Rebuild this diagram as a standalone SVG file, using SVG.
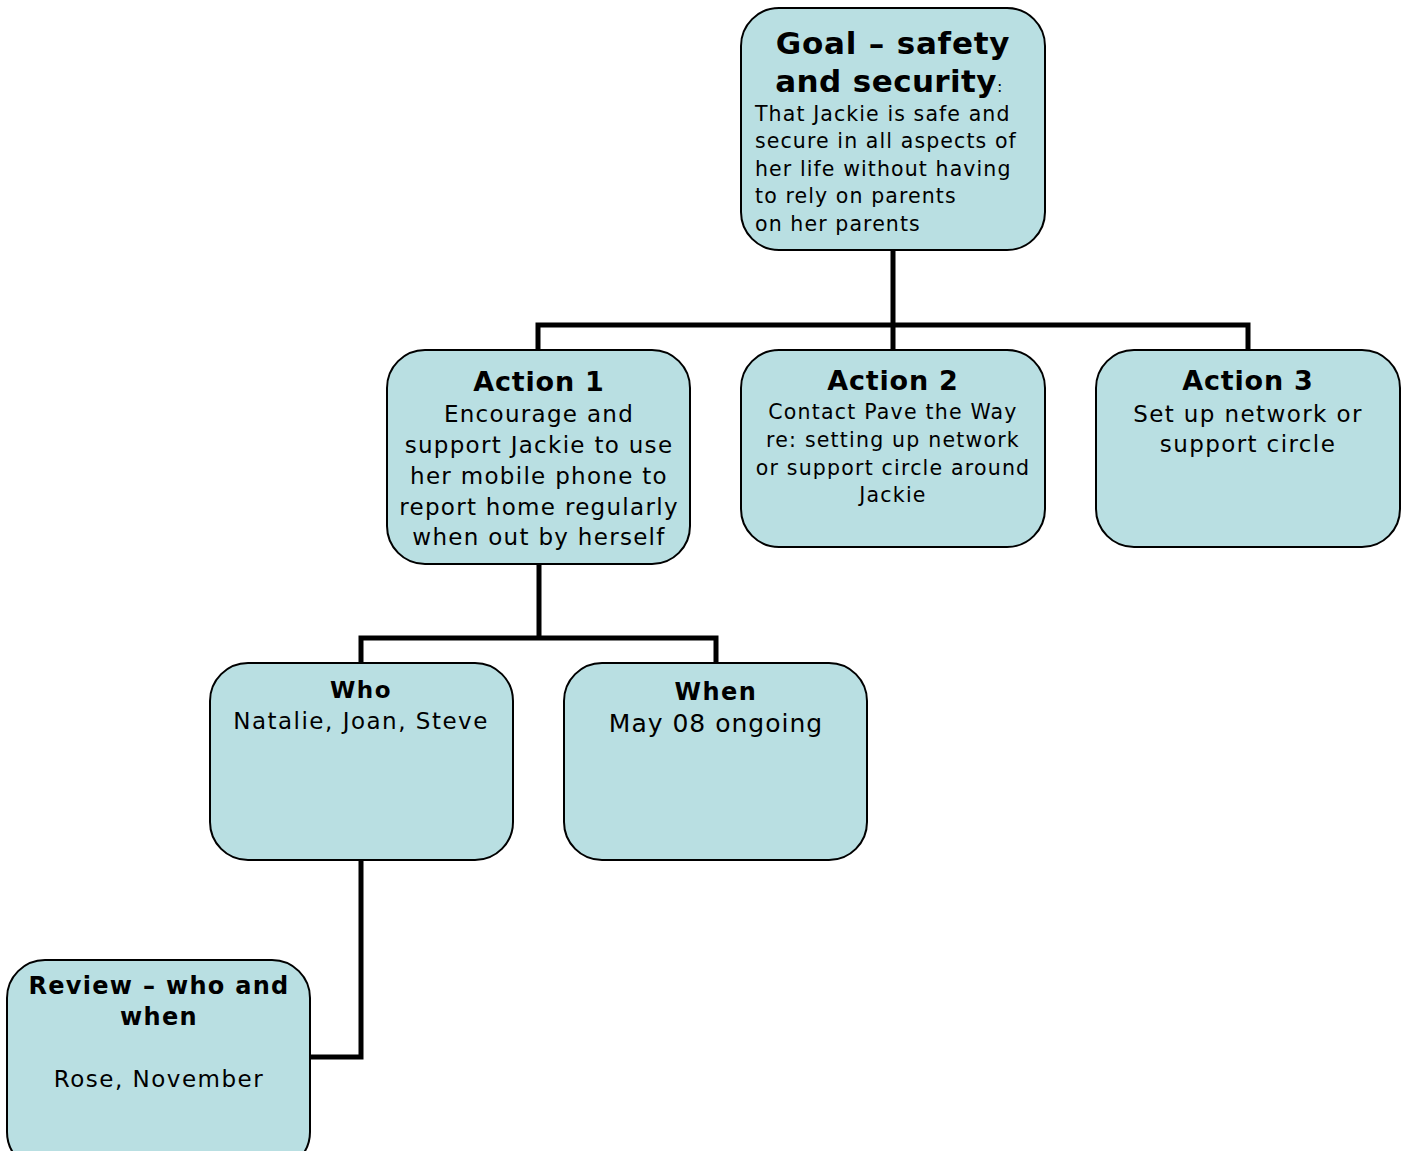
<svg xmlns="http://www.w3.org/2000/svg" width="1407" height="1151" viewBox="0 0 1407 1151">
<style>
.box{fill:#b9dfe2;stroke:#000;stroke-width:2}
.conn{fill:none;stroke:#000;stroke-width:5;stroke-linejoin:miter}
text{font-family:"DejaVu Sans","Liberation Sans",sans-serif;fill:#000}
.b{font-weight:bold}
.c{text-anchor:middle}
</style>
<rect width="1407" height="1151" fill="#fff"/>
<g id="connectors">
<path class="conn" d="M893 250V325M538 350V325H1248V350M893 325V350"/>
<path class="conn" d="M539 564V638M361 663V638H716V663"/>
<path class="conn" d="M361 860V1057H310"/>
</g>
<g id="goal">
<rect class="box" x="741" y="8" width="304" height="242" rx="38"/>
<text class="b c" x="893" y="54" font-size="31" letter-spacing="0.8">Goal – safety</text>
<text class="b c" x="889" y="92" font-size="31" letter-spacing="0.4">and security<tspan font-size="16" font-weight="normal">:</tspan></text>
<g font-size="20.5" letter-spacing="1.1">
<text x="755" y="121">That Jackie is safe and</text>
<text x="755" y="148">secure in all aspects of</text>
<text x="755" y="176">her life without having</text>
<text x="755" y="203">to rely on parents</text>
<text x="755" y="231">on her parents</text>
</g>
</g>
<g id="action1">
<rect class="box" x="387" y="350" width="303" height="214" rx="38"/>
<text class="b c" x="539" y="391" font-size="27" letter-spacing="0.8">Action 1</text>
<g class="c" font-size="23" letter-spacing="1.3">
<text x="539" y="422">Encourage and</text>
<text x="539" y="453">support Jackie to use</text>
<text x="539" y="484">her mobile phone to</text>
<text x="539" y="515">report home regularly</text>
<text x="539" y="545">when out by herself</text>
</g>
</g>
<g id="action2">
<rect class="box" x="741" y="350" width="304" height="197" rx="38"/>
<text class="b c" x="893" y="390" font-size="27" letter-spacing="0.8">Action 2</text>
<g class="c" font-size="20.5" letter-spacing="1.2">
<text x="893" y="419">Contact Pave the Way</text>
<text x="893" y="447">re: setting up network</text>
<text x="893" y="475">or support circle around</text>
<text x="893" y="502">Jackie</text>
</g>
</g>
<g id="action3">
<rect class="box" x="1096" y="350" width="304" height="197" rx="38"/>
<text class="b c" x="1248" y="390" font-size="27" letter-spacing="0.8">Action 3</text>
<g class="c" font-size="23" letter-spacing="1.4">
<text x="1248" y="422">Set up network or</text>
<text x="1248" y="452">support circle</text>
</g>
</g>
<g id="who">
<rect class="box" x="210" y="663" width="303" height="197" rx="38"/>
<text class="b c" x="361" y="698" font-size="23" letter-spacing="1.5">Who</text>
<text class="c" x="361" y="729" font-size="23" letter-spacing="1.5">Natalie, Joan, Steve</text>
</g>
<g id="when">
<rect class="box" x="564" y="663" width="303" height="197" rx="38"/>
<text class="b c" x="716" y="700" font-size="24" letter-spacing="1.5">When</text>
<text class="c" x="716" y="732" font-size="25" letter-spacing="1">May 08 ongoing</text>
</g>
<g id="review">
<rect class="box" x="7" y="960" width="303" height="210" rx="38"/>
<text class="b c" x="159" y="994" font-size="24" letter-spacing="1.3">Review – who and</text>
<text class="b c" x="159" y="1025" font-size="24" letter-spacing="1.3">when</text>
<text class="c" x="159" y="1087" font-size="23" letter-spacing="1.5">Rose, November</text>
</g>
</svg>
